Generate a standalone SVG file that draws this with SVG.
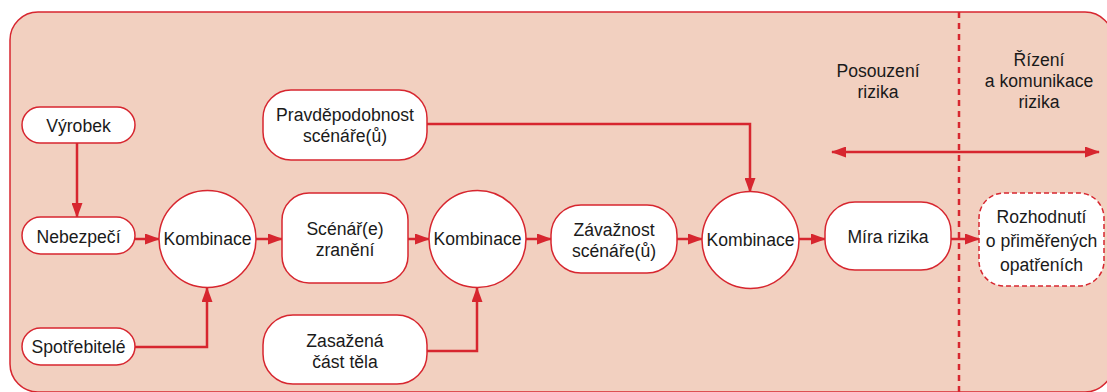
<svg xmlns="http://www.w3.org/2000/svg" width="1107" height="392" viewBox="0 0 1107 392">
  <style>
    .node { fill: #ffffff; stroke: #d7262f; stroke-width: 1.5; }
    .dashed { stroke-dasharray: 5 3; }
    .link { fill: none; stroke: #d7262f; stroke-width: 2.5; }
    text { font-family: "Liberation Sans", Arial, sans-serif; font-size: 17.6px; fill: #1a1a1a; text-anchor: middle; }
  </style>
  <defs>
    <marker id="arrow" markerUnits="userSpaceOnUse" markerWidth="15" markerHeight="11" refX="14" refY="5.5" orient="auto-start-reverse">
      <path d="M0,0 L15,5.5 L0,11 z" fill="#d7262f"/>
    </marker>
  </defs>

  <!-- background panel -->
  <rect x="10" y="12" width="1103" height="380" rx="28" ry="28" fill="#f2d0c0" stroke="#d7262f" stroke-width="1.5"/>

  <!-- phase divider -->
  <line x1="959" y1="12" x2="959" y2="392" stroke="#d7262f" stroke-width="2.5" stroke-dasharray="6 5"/>

  <!-- phase labels -->
  <g id="phase-labels">
    <text x="878" y="77">Posouzení</text>
    <text x="878" y="98">rizika</text>
    <text x="1039" y="66">Řízení</text>
    <text x="1039" y="87">a komunikace</text>
    <text x="1039" y="108">rizika</text>
  </g>

  <!-- connectors -->
  <g id="connectors">
    <line class="link" x1="832" y1="152" x2="1099" y2="152" marker-start="url(#arrow)" marker-end="url(#arrow)"/>
    <line class="link" x1="77" y1="143" x2="77" y2="217" marker-end="url(#arrow)"/>
    <line class="link" x1="135" y1="239" x2="159" y2="239" marker-end="url(#arrow)"/>
    <polyline class="link" points="135,347 207,347 207,288" marker-end="url(#arrow)"/>
    <line class="link" x1="256" y1="239" x2="282" y2="239" marker-end="url(#arrow)"/>
    <line class="link" x1="408" y1="239" x2="429" y2="239" marker-end="url(#arrow)"/>
    <polyline class="link" points="427,351 477,351 477,288" marker-end="url(#arrow)"/>
    <line class="link" x1="526" y1="239" x2="551" y2="239" marker-end="url(#arrow)"/>
    <line class="link" x1="677" y1="239" x2="702" y2="239" marker-end="url(#arrow)"/>
    <polyline class="link" points="427,124 750,124 750,192" marker-end="url(#arrow)"/>
    <line class="link" x1="799" y1="239" x2="825" y2="239" marker-end="url(#arrow)"/>
    <line class="link" x1="951" y1="239" x2="979" y2="239" marker-end="url(#arrow)"/>
  </g>

  <g id="vyrobek">
    <rect class="node" x="22" y="107" width="113" height="36" rx="18"/>
    <text x="78.5" y="132">Výrobek</text>
  </g>

  <g id="nebezpeci">
    <rect class="node" x="22" y="217" width="113" height="37" rx="18.5"/>
    <text x="78.5" y="243">Nebezpečí</text>
  </g>

  <g id="spotrebitele">
    <rect class="node" x="22" y="328" width="113" height="37" rx="18.5"/>
    <text x="78.5" y="353">Spotřebitelé</text>
  </g>

  <g id="kombinace-1">
    <circle class="node" cx="207.5" cy="239" r="48.5"/>
    <text x="207.5" y="245">Kombinace</text>
  </g>

  <g id="scenar-zraneni">
    <rect class="node" x="282" y="193" width="126" height="90" rx="27"/>
    <text x="345" y="235">Scénář(e)</text>
    <text x="345" y="256">zranění</text>
  </g>

  <g id="pravdepodobnost">
    <rect class="node" x="263" y="90" width="164" height="70" rx="28"/>
    <text x="345" y="121">Pravděpodobnost</text>
    <text x="345" y="142">scénáře(ů)</text>
  </g>

  <g id="zasazena-cast">
    <rect class="node" x="263" y="315" width="164" height="69" rx="30"/>
    <text x="345" y="347">Zasažená</text>
    <text x="345" y="368">část těla</text>
  </g>

  <g id="kombinace-2">
    <circle class="node" cx="477.5" cy="239" r="48.5"/>
    <text x="477.5" y="245">Kombinace</text>
  </g>

  <g id="zavaznost">
    <rect class="node" x="551" y="205" width="126" height="68" rx="30"/>
    <text x="614" y="236">Závažnost</text>
    <text x="614" y="257">scénáře(ů)</text>
  </g>

  <g id="kombinace-3">
    <circle class="node" cx="750.5" cy="240" r="48.5"/>
    <text x="750.5" y="246">Kombinace</text>
  </g>

  <g id="mira-rizika">
    <rect class="node" x="825" y="202" width="126" height="68" rx="30"/>
    <text x="888" y="243">Míra rizika</text>
  </g>

  <g id="rozhodnuti">
    <rect class="node dashed" x="979" y="193" width="125" height="93" rx="25"/>
    <text x="1041.5" y="223">Rozhodnutí</text>
    <text x="1041.5" y="247">o přiměřených</text>
    <text x="1041.5" y="271">opatřeních</text>
  </g>
</svg>
